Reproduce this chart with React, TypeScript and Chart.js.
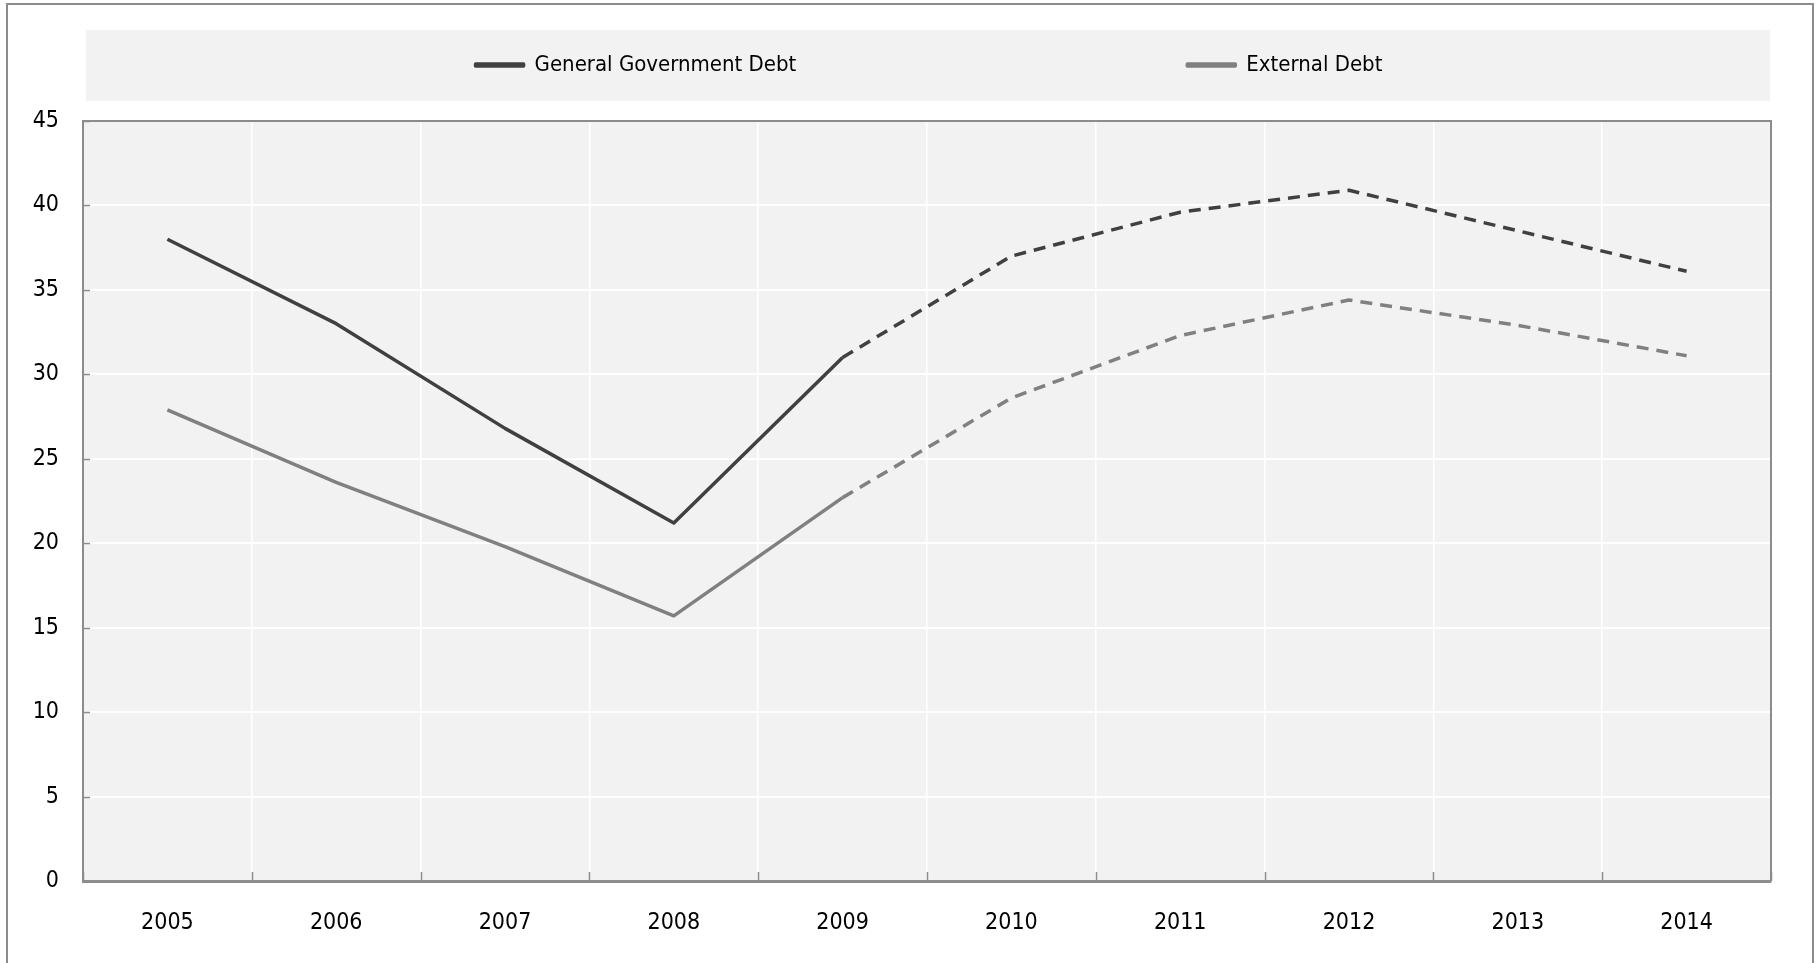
import React, { useEffect, useRef } from "react";
import { Chart, registerables } from "chart.js";

Chart.register(...registerables);

const years = ["2005", "2006", "2007", "2008", "2009", "2010", "2011", "2012", "2013", "2014"];
const generalGovernmentDebt = [38.0, 33.0, 26.8, 21.2, 31.0, 37.0, 39.6, 40.9, 38.5, 36.1];
const externalDebt = [27.9, 23.6, 19.8, 15.7, 22.7, 28.6, 32.3, 34.4, 32.9, 31.1];
const yMin = 0;
const yMax = 45;
const yStep = 5;
const projectionStartIndex = 4; // dashed from 2009 onwards

const FONT = "'Liberation Sans Narrow', 'DejaVu Sans Condensed', 'Arial Narrow', sans-serif";
const FONT_SIZE = 22;
const TICK_FONT_SIZE = 23;
const FRAME = "#8c8c8c";
const PANEL = "#f2f2f2";

const decor = {
  id: "decor",
  beforeDraw(chart: any) {
    const { ctx, chartArea: a, width, height } = chart;
    ctx.save();
    ctx.fillStyle = "#ffffff";
    ctx.fillRect(0, 0, width, height);
    // outer frame
    ctx.strokeStyle = FRAME;
    ctx.lineWidth = 2;
    ctx.strokeRect(7, 4, 1806, 970);
    // legend panel
    ctx.fillStyle = PANEL;
    ctx.fillRect(86, 30, 1684, 71);
    // plot background
    ctx.fillRect(a.left, a.top, a.right - a.left, a.bottom - a.top);
    ctx.restore();
  },
  beforeDatasetsDraw(chart: any) {
    const { ctx, chartArea: a, scales } = chart;
    ctx.save();
    ctx.strokeStyle = FRAME;
    ctx.lineWidth = 2;
    ctx.beginPath();
    ctx.moveTo(a.left, a.top);
    ctx.lineTo(a.right, a.top);
    ctx.lineTo(a.right, a.bottom);
    ctx.stroke();
    // inner tick marks
    ctx.lineWidth = 1.5;
    ctx.beginPath();
    const x = scales.x;
    const half = (x.getPixelForValue(1) - x.getPixelForValue(0)) / 2;
    for (let i = 0; i <= years.length; i++) {
      const px = Math.round(x.getPixelForValue(i) - half) + 0.5;
      ctx.moveTo(px, a.bottom);
      ctx.lineTo(px, a.bottom - 9);
    }
    const y = scales.y;
    for (let v = yMin; v <= yMax; v += yStep) {
      const py = Math.round(y.getPixelForValue(v)) + 0.5;
      ctx.moveTo(a.left, py);
      ctx.lineTo(a.left + 7, py);
    }
    ctx.stroke();
    ctx.restore();
  },
  afterLayout(chart: any) {
    const lg = chart.legend;
    if (!lg) return;
    const p = lg.options.labels.padding;
    // centre legend row on the legend panel (centre x ≈ 929)
    lg.left = 42;
    lg.right = 1816;
    lg.width = lg.right - lg.left;
    lg.top = 65 - FONT_SIZE / 2 - p;
    lg.bottom = 110;
    lg.height = lg.bottom - lg.top;
  },
};

export default function App() {
  const ref = useRef<HTMLCanvasElement | null>(null);

  useEffect(() => {
    if (!ref.current) return;
    const dash = (ctx: any) => (ctx.p0DataIndex >= projectionStartIndex ? [12, 8] : undefined);
    const chart = new Chart(ref.current, {
      type: "line",
      data: {
        labels: years,
        datasets: [
          {
            label: "General Government Debt",
            data: generalGovernmentDebt,
            borderColor: "#404040",
            backgroundColor: "#404040",
            borderWidth: 3.5,
            pointRadius: 0,
            tension: 0,
            borderJoinStyle: "round",
            segment: { borderDash: dash },
          },
          {
            label: "External Debt",
            data: externalDebt,
            borderColor: "#808080",
            backgroundColor: "#808080",
            borderWidth: 3.5,
            pointRadius: 0,
            tension: 0,
            borderJoinStyle: "round",
            segment: { borderDash: dash },
          },
        ],
      },
      options: {
        responsive: false,
        animation: false,
        layout: { padding: { left: 0, right: 45, top: 0, bottom: 0 } },
        plugins: {
          tooltip: { enabled: false },
          legend: {
            position: "top",
            maxHeight: 121,
            labels: {
              boxWidth: 48,
              boxHeight: 2,
              padding: 391,
              color: "#000000",
              font: { family: FONT, size: FONT_SIZE },
            },
          },
        },
        scales: {
          x: {
            type: "category",
            offset: true,
            afterFit: (s: any) => {
              s.height = 82;
            },
            grid: { color: "#ffffff", lineWidth: 1.5, drawTicks: false, offset: true },
            border: { display: true, color: FRAME, width: 3 },
            ticks: { color: "#000000", font: { family: FONT, size: TICK_FONT_SIZE }, padding: 28, maxRotation: 0 },
          },
          y: {
            min: yMin,
            max: yMax,
            afterFit: (s: any) => {
              s.width = 83;
            },
            grid: { color: "#ffffff", lineWidth: 2, drawTicks: false },
            border: { display: true, color: FRAME, width: 2 },
            ticks: { stepSize: yStep, color: "#000000", font: { family: FONT, size: TICK_FONT_SIZE }, padding: 24 },
          },
        },
      },
      plugins: [decor],
    });
    return () => chart.destroy();
  }, []);

  return (
    <div style={{ position: "fixed", left: 0, top: 0, width: 1816, height: 963, background: "#fff" }}>
      <canvas ref={ref} width={1816} height={963} style={{ display: "block" }} />
    </div>
  );
}
